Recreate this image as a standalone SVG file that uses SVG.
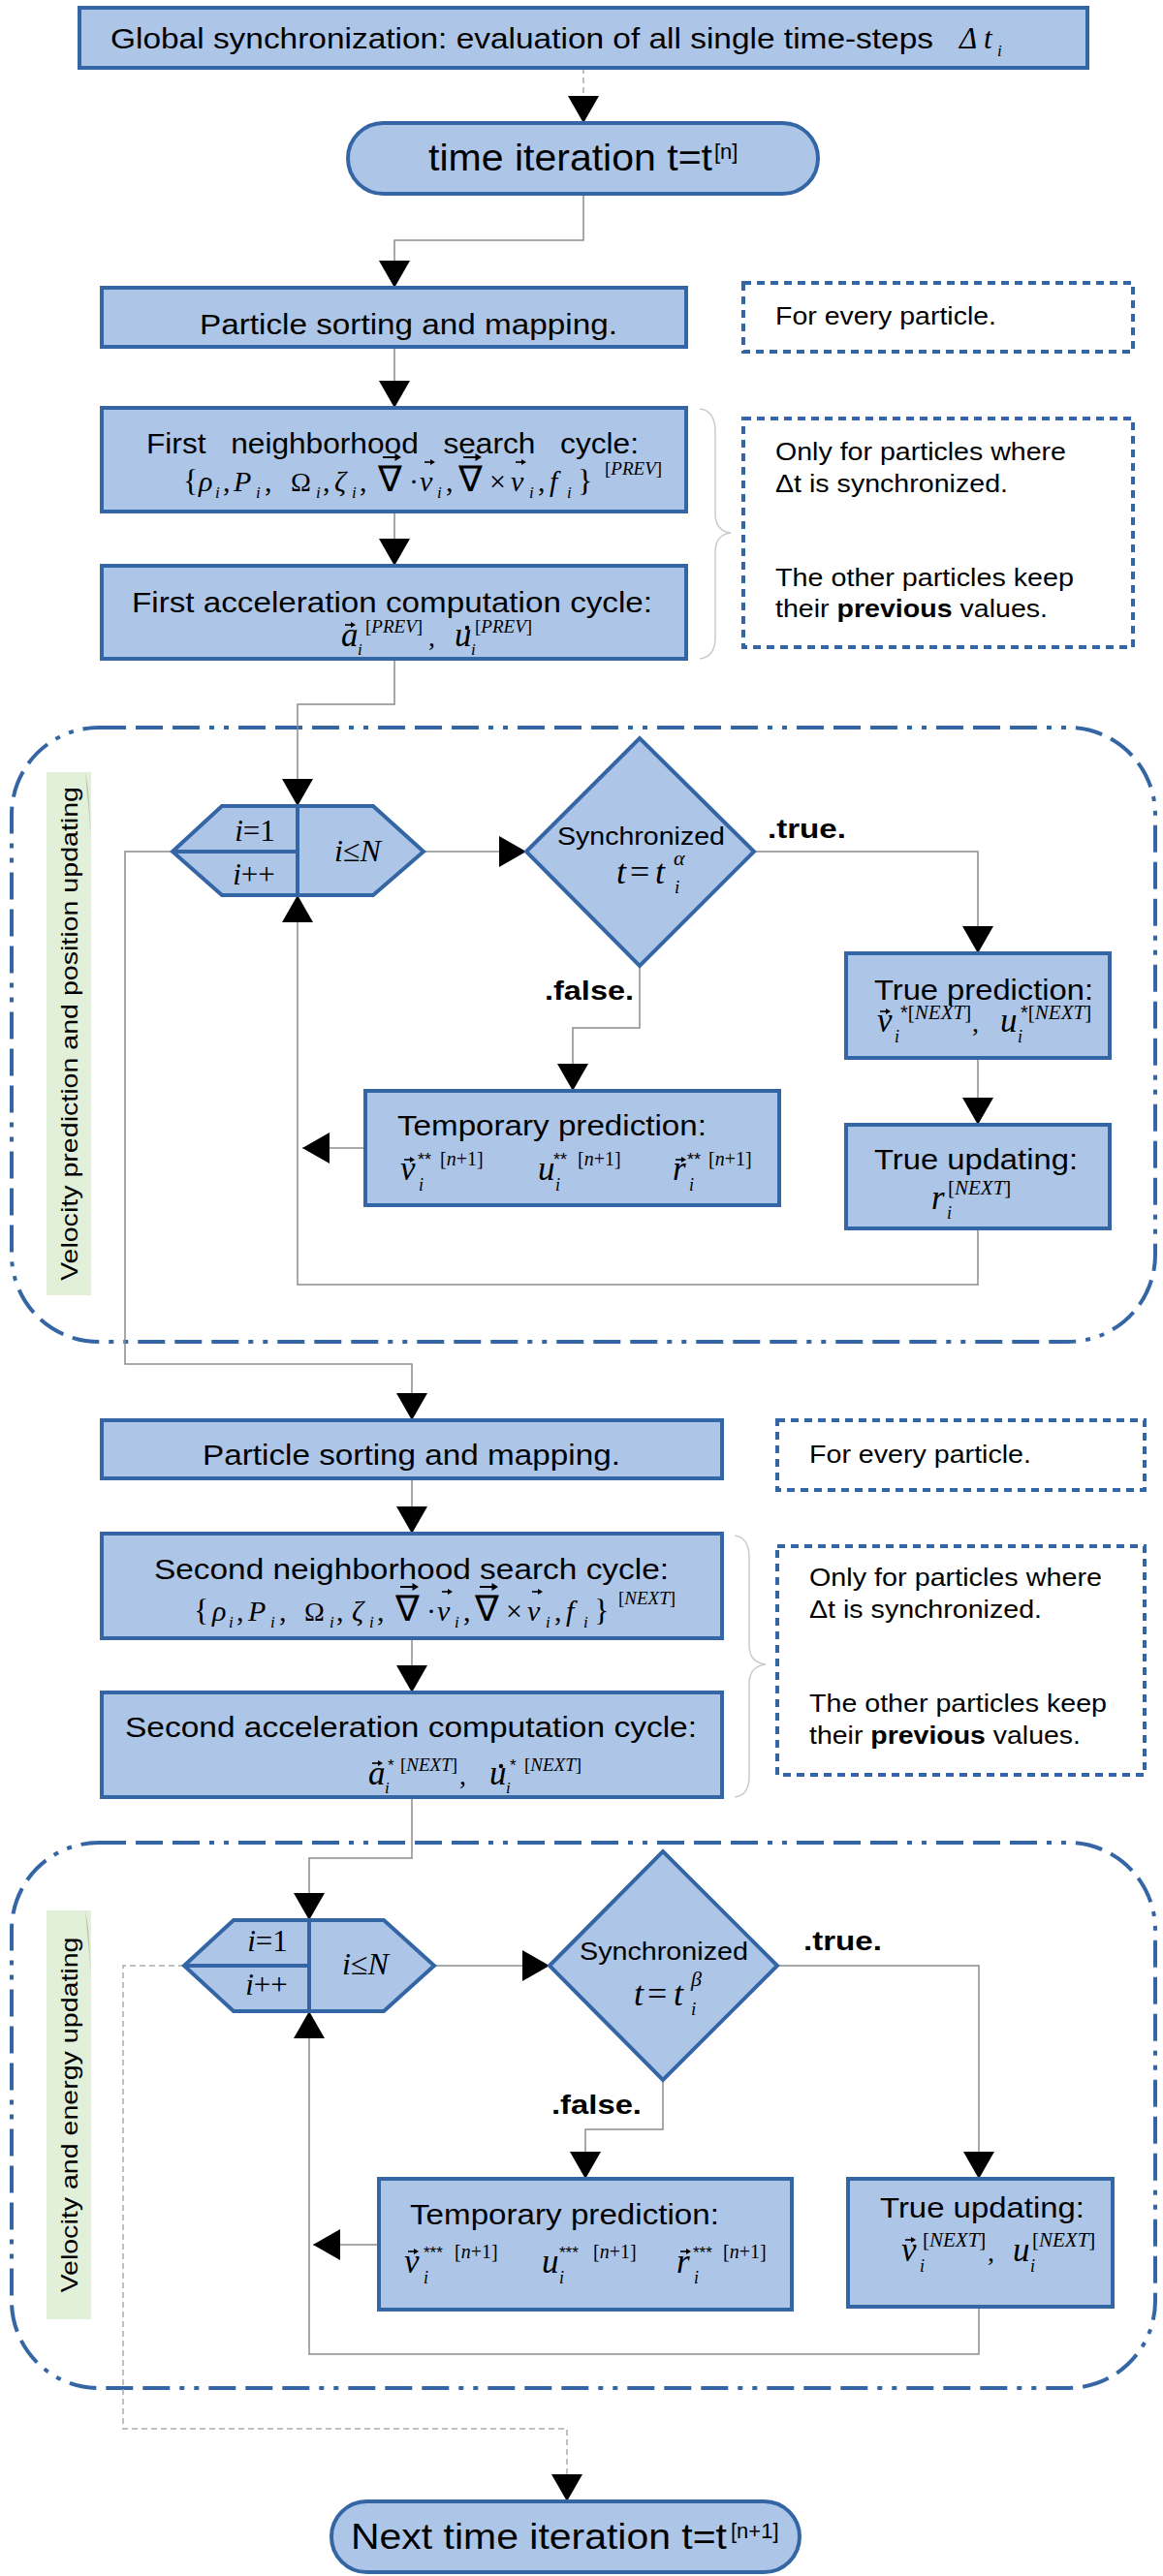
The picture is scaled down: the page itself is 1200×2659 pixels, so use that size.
<svg xmlns="http://www.w3.org/2000/svg" width="1200" height="2659" viewBox="0 0 1200 2659">
<defs>
<style>
.box{fill:#adc6e8;stroke:#3465a4;stroke-width:4}
.note{fill:none;stroke:#3465a4;stroke-width:4;stroke-dasharray:8 6}
.loop{fill:none;stroke:#3465a4;stroke-width:4;stroke-dasharray:28 10 28 10 28 10 5 10 5 10}
.lbl{fill:#e2efd9}
.fold{fill:#b4c2a8}
.c{fill:none;stroke:#8c8c8c;stroke-width:1.5}
.cd{fill:none;stroke:#aaaaaa;stroke-width:1.5;stroke-dasharray:6 4}
.brace{fill:none;stroke:#cccccc;stroke-width:1.5}
.s{font-family:"Liberation Sans",Arial,sans-serif;fill:#000}
.b{font-weight:bold}
.m{font-family:"Liberation Serif","Times New Roman",serif;font-style:italic;fill:#000}
.up{font-style:normal}
.ss{font-family:"Liberation Sans",Arial,sans-serif;font-style:normal}
</style>
<marker id="ah" viewBox="0 0 28 32" refX="28" refY="16" markerWidth="28" markerHeight="32" markerUnits="userSpaceOnUse" orient="auto">
<path d="M0,0 L28,16 L0,32 z" fill="#000"/>
</marker>
<g id="vs"><path d="M0,0 H7.5" stroke="#000" stroke-width="1.6"/><path d="M6,-3 L11,0 L6,3 z" fill="#000"/></g>
<g id="vl"><path d="M0,0 H15" stroke="#000" stroke-width="2"/><path d="M12.5,-4 L19,0 L12.5,4 z" fill="#000"/></g>
</defs>
<rect width="1200" height="2659" fill="#fff"/>

<g id="loop1">
<rect class="loop" x="12" y="751" width="1180" height="634" rx="90" ry="90"/>
<rect class="lbl" x="48" y="797" width="46" height="540"/>
<polygon class="fold" points="88,797 94,863 91,815"/>
<text class="s" font-size="24" transform="translate(80,1067) rotate(-90)" text-anchor="middle" textLength="510" lengthAdjust="spacingAndGlyphs">Velocity prediction and position updating</text>
</g>
<g id="loop2">
<rect class="loop" x="12" y="1902" width="1180" height="563" rx="90" ry="90"/>
<rect class="lbl" x="48" y="1972" width="46" height="422"/>
<polygon class="fold" points="88,1972 94,2038 91,1990"/>
<text class="s" font-size="24" transform="translate(80,2183) rotate(-90)" text-anchor="middle" textLength="367" lengthAdjust="spacingAndGlyphs">Velocity and energy updating</text>
</g>

<g id="connectors">
<path class="cd" d="M602,70 V127" marker-end="url(#ah)"/>
<path class="c" d="M602,200 V248 H407 V297" marker-end="url(#ah)"/>
<path class="c" d="M407,358 V421" marker-end="url(#ah)"/>
<path class="c" d="M407,528 V584" marker-end="url(#ah)"/>
<path class="c" d="M407,680 V727 H307 V832" marker-end="url(#ah)"/>
<path class="c" d="M437,879 H543" marker-end="url(#ah)"/>
<path class="c" d="M778,879 H1009 V984" marker-end="url(#ah)"/>
<path class="c" d="M660,997 V1061 H591 V1126" marker-end="url(#ah)"/>
<path class="c" d="M1009,1092 V1161" marker-end="url(#ah)"/>
<path class="c" d="M377,1185 H312" marker-end="url(#ah)"/>
<path class="c" d="M1009,1268 V1326 H307 V924" marker-end="url(#ah)"/>
<path class="c" d="M178,879 H129 V1408 H425 V1466" marker-end="url(#ah)"/>
<path class="c" d="M425,1526 V1583" marker-end="url(#ah)"/>
<path class="c" d="M425,1691 V1747" marker-end="url(#ah)"/>
<path class="c" d="M425,1855 V1918 H319 V1982" marker-end="url(#ah)"/>
<path class="c" d="M448,2029 H567" marker-end="url(#ah)"/>
<path class="c" d="M802,2029 H1010 V2249" marker-end="url(#ah)"/>
<path class="c" d="M684,2147 V2198 H604 V2249" marker-end="url(#ah)"/>
<path class="c" d="M391,2317 H323" marker-end="url(#ah)"/>
<path class="c" d="M1010,2381 V2430 H319 V2076" marker-end="url(#ah)"/>
<path class="cd" d="M190,2029 H127 V2507 H585 V2582" marker-end="url(#ah)"/>
<path class="brace" d="M722,422 Q738,424 738,445 L738,530 Q738,548 754,550 Q738,552 738,570 L738,658 Q738,678 722,680"/>
<path class="brace" d="M758,1585 Q773,1587 773,1608 L773,1698 Q773,1716 790,1718 Q773,1720 773,1738 L773,1834 Q773,1853 758,1855"/>
</g>

<g id="global-sync">
<rect class="box" x="82" y="8" width="1040" height="62"/>
<text class="s" x="114" y="50" font-size="30" textLength="849" lengthAdjust="spacingAndGlyphs">Global synchronization: evaluation of all single time-steps</text>
<text class="m" y="50" font-size="31"><tspan x="990">Δ</tspan><tspan x="1015">t</tspan><tspan x="1029" y="58" font-size="17">i</tspan></text>
</g>

<g id="time-iteration">
<rect class="box" x="359" y="127" width="485" height="73" rx="36.5" ry="36.5"/>
<text class="s" x="442" y="176" font-size="38"><tspan textLength="293" lengthAdjust="spacingAndGlyphs">time iteration t=t</tspan><tspan x="737" y="164" font-size="22">[n]</tspan></text>
</g>

<g id="sorting1">
<rect class="box" x="105" y="297" width="603" height="61"/>
<text class="s" x="206" y="345" font-size="30" textLength="431" lengthAdjust="spacingAndGlyphs">Particle sorting and mapping.</text>
</g>

<g id="note1">
<rect class="note" x="767" y="292" width="402" height="71"/>
<text class="s" x="800" y="335" font-size="26" textLength="228" lengthAdjust="spacingAndGlyphs">For every particle.</text>
</g>

<g id="neighbor1">
<rect class="box" x="105" y="421" width="603" height="107"/>
<text class="s" x="151" y="468" font-size="30" word-spacing="16" textLength="508" lengthAdjust="spacingAndGlyphs">First neighborhood search cycle:</text>
<text class="m" y="507" font-size="30"><tspan class="up" x="189" font-size="32">{</tspan><tspan x="205">ρ</tspan><tspan x="222" y="514" font-size="17">i</tspan><tspan class="up" x="230" y="507">,</tspan><tspan x="241">P</tspan><tspan x="264" y="514" font-size="17">i</tspan><tspan class="up" x="273" y="507">,</tspan><tspan class="up" x="300" font-size="28">Ω</tspan><tspan x="326" y="514" font-size="17">i</tspan><tspan class="up" x="333" y="507">,</tspan><tspan x="345">ζ</tspan><tspan x="363" y="514" font-size="17">i</tspan><tspan class="up" x="371" y="507">,</tspan><tspan class="up" x="390" font-size="37">∇</tspan><tspan class="up" x="422">·</tspan><tspan x="433">v</tspan><tspan x="451" y="514" font-size="17">i</tspan><tspan class="up" x="460" y="507">,</tspan><tspan class="up" x="473" font-size="37">∇</tspan><tspan class="up" x="505">×</tspan><tspan x="527">v</tspan><tspan x="546" y="514" font-size="17">i</tspan><tspan class="up" x="555" y="507">,</tspan><tspan x="567">f</tspan><tspan x="585" y="514" font-size="17">i</tspan><tspan class="up" x="596" y="507" font-size="32">}</tspan><tspan x="624" y="490" font-size="19"><tspan class="up">[</tspan>PREV<tspan class="up">]</tspan></tspan></text>
<use href="#vl" x="395" y="472"/>
<use href="#vl" x="478" y="472"/>
<use href="#vs" x="438" y="477"/>
<use href="#vs" x="532" y="477"/>
</g>

<g id="accel1">
<rect class="box" x="105" y="584" width="603" height="96"/>
<text class="s" x="136" y="632" font-size="30" textLength="537" lengthAdjust="spacingAndGlyphs">First acceleration computation cycle:</text>
<text class="m" y="667" font-size="35"><tspan x="352">a</tspan><tspan x="369" y="676" font-size="17">i</tspan><tspan x="377" y="653" font-size="19"><tspan class="up">[</tspan>PREV<tspan class="up">]</tspan></tspan><tspan class="up" x="442" y="667" font-size="28">,</tspan><tspan x="469">u</tspan><tspan x="486" y="676" font-size="17">i</tspan><tspan x="490" y="653" font-size="19"><tspan class="up">[</tspan>PREV<tspan class="up">]</tspan></tspan></text>
<use href="#vs" x="356" y="645"/>
<circle cx="482" cy="648" r="2.2" fill="#000"/>
</g>

<g id="note2">
<rect class="note" x="767" y="432" width="402" height="236"/>
<text class="s" x="800" y="475" font-size="26" textLength="300" lengthAdjust="spacingAndGlyphs">Only for particles where</text>
<text class="s" x="800" y="508" font-size="26" textLength="240" lengthAdjust="spacingAndGlyphs">Δt is synchronized.</text>
<text class="s" x="800" y="605" font-size="26" textLength="308" lengthAdjust="spacingAndGlyphs">The other particles keep</text>
<text class="s" x="800" y="637" font-size="26" textLength="281" lengthAdjust="spacingAndGlyphs">their <tspan class="b">previous</tspan> values.</text>
</g>

<g id="loop1-counter">
<polygon class="box" points="178,879 229,832 385,832 437,879 385,924 229,924"/>
<path d="M307,832 V924 M178,879 H307" fill="none" stroke="#3465a4" stroke-width="4"/>
<text class="m" x="263" y="868" font-size="31" text-anchor="middle">i<tspan class="up">=1</tspan></text>
<text class="m" x="262" y="913" font-size="31" text-anchor="middle">i<tspan class="up">++</tspan></text>
<text class="m" x="369" y="889" font-size="32" text-anchor="middle">i<tspan class="up">≤</tspan>N</text>
</g>

<g id="sync1">
<polygon class="box" points="543,879 660,762 778,879 660,997"/>
<text class="s" x="575" y="872" font-size="26" textLength="173" lengthAdjust="spacingAndGlyphs">Synchronized</text>
<text class="m" y="912" font-size="36"><tspan x="636">t</tspan><tspan class="up" x="650">=</tspan><tspan x="676">t</tspan><tspan x="695" y="893" font-size="22">α</tspan><tspan x="696" y="922" font-size="19">i</tspan></text>
</g>

<g id="labels1">
<text class="s b" x="792" y="865" font-size="28" textLength="81" lengthAdjust="spacingAndGlyphs">.true.</text>
<text class="s b" x="562" y="1032" font-size="28" textLength="92" lengthAdjust="spacingAndGlyphs">.false.</text>
</g>

<g id="true-prediction">
<rect class="box" x="873" y="984" width="272" height="108"/>
<text class="s" x="902" y="1032" font-size="30" textLength="226" lengthAdjust="spacingAndGlyphs">True prediction:</text>
<text class="m" y="1065" font-size="35"><tspan x="905">v</tspan><tspan x="923" y="1076" font-size="18">i</tspan><tspan class="ss" x="929" y="1052" font-size="20">*</tspan><tspan font-size="21"><tspan class="up">[</tspan>NEXT<tspan class="up">]</tspan></tspan><tspan class="up" x="1003" y="1065" font-size="28">,</tspan><tspan x="1032">u</tspan><tspan x="1050" y="1076" font-size="18">i</tspan><tspan class="ss" x="1053" y="1052" font-size="20">*</tspan><tspan font-size="21"><tspan class="up">[</tspan>NEXT<tspan class="up">]</tspan></tspan></text>
<use href="#vs" x="908" y="1044"/>
</g>

<g id="true-updating1">
<rect class="box" x="873" y="1161" width="272" height="107"/>
<text class="s" x="902" y="1207" font-size="30" textLength="210" lengthAdjust="spacingAndGlyphs">True updating:</text>
<text class="m" y="1248" font-size="35"><tspan x="961">r</tspan><tspan x="977" y="1258" font-size="18">i</tspan><tspan x="978" y="1233" font-size="21"><tspan class="up">[</tspan>NEXT<tspan class="up">]</tspan></tspan></text>
</g>

<g id="temp-prediction1">
<rect class="box" x="377" y="1126" width="427" height="118"/>
<text class="s" x="410" y="1172" font-size="30" textLength="319" lengthAdjust="spacingAndGlyphs">Temporary prediction:</text>
<text class="m" y="1218" font-size="35"><tspan x="413">v</tspan><tspan x="432" y="1229" font-size="18">i</tspan><tspan class="ss" x="431" y="1203" font-size="18">**</tspan><tspan x="454" font-size="20"><tspan class="up">[</tspan>n<tspan class="up">+1]</tspan></tspan><tspan x="555" y="1218">u</tspan><tspan x="573" y="1229" font-size="18">i</tspan><tspan class="ss" x="571" y="1203" font-size="18">**</tspan><tspan x="596" font-size="20"><tspan class="up">[</tspan>n<tspan class="up">+1]</tspan></tspan><tspan x="694" y="1218">r</tspan><tspan x="711" y="1229" font-size="18">i</tspan><tspan class="ss" x="709" y="1203" font-size="18">**</tspan><tspan x="731" font-size="20"><tspan class="up">[</tspan>n<tspan class="up">+1]</tspan></tspan></text>
<use href="#vs" x="417" y="1197"/>
<use href="#vs" x="697" y="1197"/>
</g>

<g id="sorting2">
<rect class="box" x="105" y="1466" width="640" height="60"/>
<text class="s" x="209" y="1512" font-size="30" textLength="431" lengthAdjust="spacingAndGlyphs">Particle sorting and mapping.</text>
</g>

<g id="note3">
<rect class="note" x="802" y="1466" width="379" height="72"/>
<text class="s" x="835" y="1510" font-size="26" textLength="229" lengthAdjust="spacingAndGlyphs">For every particle.</text>
</g>

<g id="neighbor2">
<rect class="box" x="105" y="1583" width="640" height="108"/>
<text class="s" x="159" y="1630" font-size="30" textLength="531" lengthAdjust="spacingAndGlyphs">Second neighborhood search cycle:</text>
<text class="m" y="1673" font-size="30"><tspan class="up" x="200" font-size="32">{</tspan><tspan x="219">ρ</tspan><tspan x="236" y="1680" font-size="17">i</tspan><tspan class="up" x="244" y="1673">,</tspan><tspan x="256">P</tspan><tspan x="279" y="1680" font-size="17">i</tspan><tspan class="up" x="288" y="1673">,</tspan><tspan class="up" x="314" font-size="28">Ω</tspan><tspan x="340" y="1680" font-size="17">i</tspan><tspan class="up" x="347" y="1673">,</tspan><tspan x="363">ζ</tspan><tspan x="381" y="1680" font-size="17">i</tspan><tspan class="up" x="389" y="1673">,</tspan><tspan class="up" x="408" font-size="37">∇</tspan><tspan class="up" x="440">·</tspan><tspan x="451">v</tspan><tspan x="469" y="1680" font-size="17">i</tspan><tspan class="up" x="478" y="1673">,</tspan><tspan class="up" x="490" font-size="37">∇</tspan><tspan class="up" x="522">×</tspan><tspan x="544">v</tspan><tspan x="563" y="1680" font-size="17">i</tspan><tspan class="up" x="572" y="1673">,</tspan><tspan x="584">f</tspan><tspan x="602" y="1680" font-size="17">i</tspan><tspan class="up" x="613" y="1673" font-size="32">}</tspan><tspan x="638" y="1656" font-size="19"><tspan class="up">[</tspan>NEXT<tspan class="up">]</tspan></tspan></text>
<use href="#vl" x="413" y="1638"/>
<use href="#vl" x="495" y="1638"/>
<use href="#vs" x="456" y="1643"/>
<use href="#vs" x="549" y="1643"/>
</g>

<g id="accel2">
<rect class="box" x="105" y="1747" width="640" height="108"/>
<text class="s" x="129" y="1793" font-size="30" textLength="590" lengthAdjust="spacingAndGlyphs">Second acceleration computation cycle:</text>
<text class="m" y="1842" font-size="35"><tspan x="380">a</tspan><tspan x="397" y="1851" font-size="17">i</tspan><tspan class="ss" x="400" y="1828" font-size="17">*</tspan><tspan x="413" font-size="19"><tspan class="up">[</tspan>NEXT<tspan class="up">]</tspan></tspan><tspan class="up" x="474" y="1842" font-size="28">,</tspan><tspan x="505">u</tspan><tspan x="522" y="1851" font-size="17">i</tspan><tspan class="ss" x="526" y="1828" font-size="17">*</tspan><tspan x="541" font-size="19"><tspan class="up">[</tspan>NEXT<tspan class="up">]</tspan></tspan></text>
<use href="#vs" x="384" y="1820"/>
<circle cx="517" cy="1823" r="2.2" fill="#000"/>
</g>

<g id="note4">
<rect class="note" x="802" y="1596" width="379" height="236"/>
<text class="s" x="835" y="1637" font-size="26" textLength="302" lengthAdjust="spacingAndGlyphs">Only for particles where</text>
<text class="s" x="835" y="1670" font-size="26" textLength="240" lengthAdjust="spacingAndGlyphs">Δt is synchronized.</text>
<text class="s" x="835" y="1767" font-size="26" textLength="307" lengthAdjust="spacingAndGlyphs">The other particles keep</text>
<text class="s" x="835" y="1800" font-size="26" textLength="280" lengthAdjust="spacingAndGlyphs">their <tspan class="b">previous</tspan> values.</text>
</g>

<g id="loop2-counter">
<polygon class="box" points="190,2029 241,1982 396,1982 448,2029 396,2076 241,2076"/>
<path d="M319,1982 V2076 M190,2029 H319" fill="none" stroke="#3465a4" stroke-width="4"/>
<text class="m" x="276" y="2014" font-size="31" text-anchor="middle">i<tspan class="up">=1</tspan></text>
<text class="m" x="275" y="2059" font-size="31" text-anchor="middle">i<tspan class="up">++</tspan></text>
<text class="m" x="377" y="2038" font-size="32" text-anchor="middle">i<tspan class="up">≤</tspan>N</text>
</g>

<g id="sync2">
<polygon class="box" points="567,2029 684,1911 802,2029 684,2147"/>
<text class="s" x="598" y="2023" font-size="26" textLength="174" lengthAdjust="spacingAndGlyphs">Synchronized</text>
<text class="m" y="2070" font-size="36"><tspan x="654">t</tspan><tspan class="up" x="668">=</tspan><tspan x="695">t</tspan><tspan x="713" y="2050" font-size="22">β</tspan><tspan x="713" y="2080" font-size="19">i</tspan></text>
</g>

<g id="labels2">
<text class="s b" x="829" y="2013" font-size="28" textLength="81" lengthAdjust="spacingAndGlyphs">.true.</text>
<text class="s b" x="569" y="2182" font-size="28" textLength="93" lengthAdjust="spacingAndGlyphs">.false.</text>
</g>

<g id="temp-prediction2">
<rect class="box" x="391" y="2249" width="426" height="135"/>
<text class="s" x="423" y="2296" font-size="30" textLength="319" lengthAdjust="spacingAndGlyphs">Temporary prediction:</text>
<text class="m" y="2346" font-size="35"><tspan x="417">v</tspan><tspan x="437" y="2357" font-size="18">i</tspan><tspan class="ss" x="437" y="2331" font-size="17">***</tspan><tspan x="469" font-size="20"><tspan class="up">[</tspan>n<tspan class="up">+1]</tspan></tspan><tspan x="559" y="2346">u</tspan><tspan x="577" y="2357" font-size="18">i</tspan><tspan class="ss" x="577" y="2331" font-size="17">***</tspan><tspan x="612" font-size="20"><tspan class="up">[</tspan>n<tspan class="up">+1]</tspan></tspan><tspan x="698" y="2346">r</tspan><tspan x="716" y="2357" font-size="18">i</tspan><tspan class="ss" x="715" y="2331" font-size="17">***</tspan><tspan x="746" font-size="20"><tspan class="up">[</tspan>n<tspan class="up">+1]</tspan></tspan></text>
<use href="#vs" x="421" y="2324"/>
<use href="#vs" x="702" y="2324"/>
</g>

<g id="true-updating2">
<rect class="box" x="875" y="2249" width="273" height="132"/>
<text class="s" x="908" y="2289" font-size="30" textLength="211" lengthAdjust="spacingAndGlyphs">True updating:</text>
<text class="m" y="2334" font-size="35"><tspan x="930">v</tspan><tspan x="949" y="2345" font-size="18">i</tspan><tspan x="952" y="2319" font-size="21"><tspan class="up">[</tspan>NEXT<tspan class="up">]</tspan></tspan><tspan class="up" x="1019" y="2334" font-size="28">,</tspan><tspan x="1045">u</tspan><tspan x="1063" y="2345" font-size="18">i</tspan><tspan x="1065" y="2319" font-size="21"><tspan class="up">[</tspan>NEXT<tspan class="up">]</tspan></tspan></text>
<use href="#vs" x="934" y="2312"/>
</g>

<g id="next-iteration">
<rect class="box" x="342" y="2582" width="483" height="73" rx="36.5" ry="36.5"/>
<text class="s" x="362" y="2631" font-size="36"><tspan textLength="388" lengthAdjust="spacingAndGlyphs">Next time iteration t=t</tspan><tspan x="754" y="2620" font-size="22">[n+1]</tspan></text>
</g>
</svg>
